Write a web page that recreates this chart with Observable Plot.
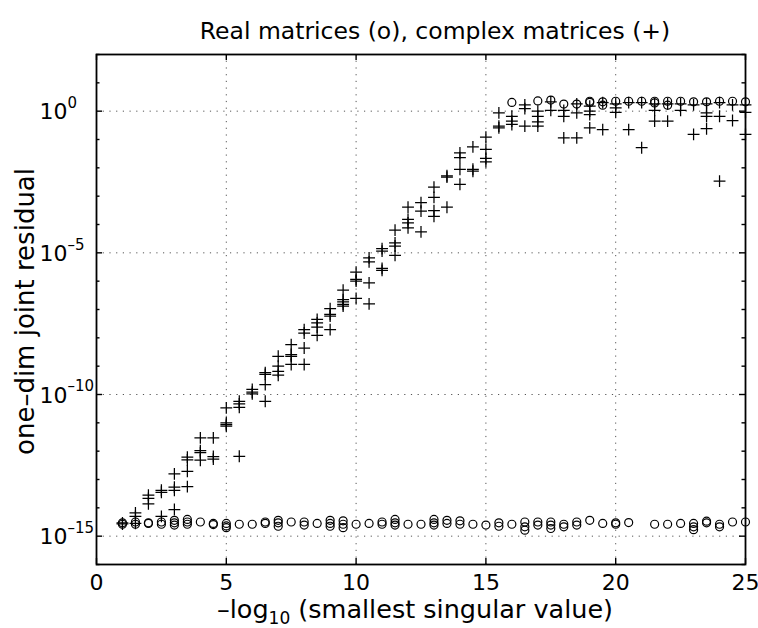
<!DOCTYPE html>
<html><head><meta charset="utf-8">
<script src="https://cdn.jsdelivr.net/npm/d3@7"></script>
<script src="https://cdn.jsdelivr.net/npm/@observablehq/plot@0.6"></script>
<style>html,body{margin:0;padding:0;background:#fff} svg{display:block}</style>
</head><body><div id="chart"></div>
<script>
// ---- text ----
const titleText = "Real matrices (o), complex matrices (+)";
const xLabelText = "–log10 (smallest singular value)";
const yLabelText = "one–dim joint residual";

// ---- ticks ----
const xTicks = [0, 5, 10, 15, 20, 25];
const xGridVals = [5, 10, 15, 20];
const yMajorExp = [0, -5, -10, -15];
const yTickLabels = ["0", "–5", "–10", "–15"];
const yMinorExp = [2, 1, -1, -2, -3, -4, -6, -7, -8, -9, -11, -12, -13, -14, -16];

// ---- data: real matrices (o), log10 of residual ----
const realX = [
  1,1, 1.5,1.5, 2,2, 2.5,2.5, 3,3,3, 3.5,3.5,3.5, 4, 4.5,4.5, 5,5,5, 5.5, 6, 6.5,6.5, 7,7,7, 7.5, 8,8,
  8.5, 9,9,9, 9.5,9.5,9.5, 10, 10.5, 11,11, 11.5,11.5,11.5, 12, 12.5, 13,13,13, 13.5,13.5, 14,14, 14.5, 15,
  15.5,15.5, 16, 16.5,16.5,16.5, 17,17, 17.5,17.5,17.5, 18,18, 18.5,18.5, 19, 19.5, 20,20, 20.5,
  21.5, 22, 22.5, 23,23,23, 23.5,23.5, 24,24, 24.5, 25,
  16, 17, 17.5, 18, 18.5, 19,19, 19.5,19.5, 20, 20.5, 21, 21.5,21.5, 22,22, 22.5, 23, 23.5, 24, 24.5, 25
];
const realLog10Res = [
  -14.53,-14.58, -14.50,-14.58, -14.53,-14.55, -14.50,-14.58, -14.44,-14.53,-14.61, -14.41,-14.50,-14.58, -14.50, -14.55,-14.59,
  -14.55,-14.64,-14.70, -14.58, -14.58, -14.50,-14.55, -14.44,-14.53,-14.65, -14.50, -14.50,-14.61,
  -14.55, -14.44,-14.55,-14.65, -14.46,-14.58,-14.70, -14.58, -14.55, -14.50,-14.58, -14.41,-14.53,-14.61, -14.58, -14.58,
  -14.41,-14.53,-14.61, -14.44,-14.55, -14.46,-14.58, -14.58, -14.61,
  -14.53,-14.65, -14.58, -14.50,-14.67,-14.79, -14.50,-14.61, -14.50,-14.61,-14.73, -14.58,-14.67, -14.50,-14.61, -14.44, -14.55,
  -14.53,-14.58, -14.52,
  -14.58, -14.58, -14.55, -14.55,-14.67,-14.77, -14.47,-14.53, -14.58,-14.67, -14.50, -14.50,
  0.31, 0.36, 0.39, 0.25, 0.25, 0.35,0.31, 0.33,0.21, 0.35, 0.35, 0.35, 0.35,0.29, 0.35,0.21, 0.35, 0.33, 0.33, 0.35, 0.35, 0.33
];

// ---- data: complex matrices (+), log10 of residual ----
const complexX = [
  1,1, 1.5,1.5,1.5, 2,2,2, 2.5,2.5,2.5, 3,3,3,3, 3.5,3.5,3.5,3.5, 4,4,4,4, 4.5,4.5,4.5, 5,5,5,5,
  5.5,5.5,5.5,5.5, 6,6,6, 6.5,6.5,6.5,6.5, 7,7,7,7, 7.5,7.5,7.5,7.5, 8,8,8,8, 8.5,8.5,8.5,8.5,
  9,9,9,9, 9.5,9.5,9.5,9.5,9.5, 10,10,10,10, 10.5,10.5,10.5,10.5, 11,11,11,11, 11.5,11.5,11.5,11.5,
  12,12,12,12, 12.5,12.5,12.5, 13,13,13,13, 13.5,13.5,13.5, 14,14,14,14, 14.5,14.5,14.5, 15,15,15,15,
  15.5,15.5,15.5, 16,16,16, 16.5,16.5,16.5, 17,17,17,17, 17.5,17.5, 18,18,18, 18.5,18.5,18.5,
  19,19,19,19, 19.5,19.5, 20,20,20, 20.5,20.5, 21,21, 21.5,21.5,21.5, 22,22, 22.5,22.5, 23,23,
  23.5,23.5,23.5,23.5, 24,24,24, 24.5,24.5, 25,25,25
];
const complexLog10Res = [
  -14.53,-14.57, -14.18,-14.30,-14.55, -13.55,-13.67,-13.86, -13.38,-13.45,-14.30, -12.80,-13.27,-13.38,-14.06,
  -12.21,-12.31,-12.71,-13.25, -11.53,-11.98,-12.05,-12.32, -11.53,-12.19,-12.28, -10.47,-11.00,-11.06,-11.12,
  -10.24,-10.33,-10.45,-12.18, -9.82,-9.92,-9.98, -9.23,-9.29,-9.65,-10.24, -8.65,-9.00,-9.18,-9.32,
  -8.24,-8.59,-8.65,-8.94, -7.71,-7.83,-8.36,-8.94, -7.35,-7.47,-7.62,-7.91,
  -6.97,-7.17,-7.23,-7.71, -6.32,-6.65,-6.73,-6.82,-6.88, -5.68,-5.94,-6.00,-6.61, -5.18,-5.32,-6.06,-6.80,
  -4.85,-4.94,-5.55,-5.62, -4.20,-4.65,-4.76,-5.09,
  -3.39,-3.82,-3.94,-4.12, -3.23,-3.53,-4.26, -2.68,-3.04,-3.51,-3.71, -2.28,-2.33,-3.39,
  -1.47,-1.64,-2.05,-2.58, -1.26,-2.05,-2.12, -0.92,-1.35,-1.67,-1.79,
  -0.06,-0.53,-0.59, -0.18,-0.35,-0.47, 0.22,0.09,-0.53, 0.00,-0.18,-0.38,-0.53, 0.33,0.03,
  0.03,-0.18,-0.94, 0.26,-0.06,-0.94, 0.18,0.00,-0.12,-0.59, 0.30,-0.65, 0.26,0.12,-0.04,
  0.30,-0.65, 0.30,-1.29, 0.26,0.03,-0.35, 0.26,-0.35, 0.26,0.03, 0.22,-0.82,
  0.26,-0.06,-0.18,-0.62, 0.30,-0.18,-2.47, 0.22,-0.33, 0.22,-0.04,-0.82
];

const realData = realX.map((x, i) => ({x, res: 10 ** realLog10Res[i]}));
const complexData = complexX.map((x, i) => ({x, res: 10 ** complexLog10Res[i]}));

const W = 758, H = 628, ML = 96, MR = 13, MT = 54, MB = 64;
const PW = W - ML - MR, PH = H - MT - MB;
const FONT = "DejaVu Sans";
const grid = {stroke: "#555", strokeOpacity: 1, strokeWidth: 1, strokeDasharray: "1.2,5.5"};
const tickStyle = {stroke: "black", strokeWidth: 1.4};

const chart = Plot.plot({
  width: W, height: H,
  marginLeft: ML, marginRight: MR, marginTop: MT, marginBottom: MB,
  x: {domain: [0, 25], axis: null},
  y: {type: "log", domain: [1e-16, 1e2], axis: null},
  style: {fontFamily: FONT, background: "white", color: "black"},
  marks: [
    Plot.ruleX(xGridVals, {x: d => d, ...grid}),
    Plot.ruleY(yMajorExp, {y: e => 10 ** e, ...grid}),
    // inward ticks
    Plot.ruleX(xTicks, {x: d => d, insetTop: PH - 6, ...tickStyle}),
    Plot.ruleX(xTicks, {x: d => d, insetBottom: PH - 6, ...tickStyle}),
    Plot.ruleY(yMajorExp, {y: e => 10 ** e, insetRight: PW - 6, ...tickStyle}),
    Plot.ruleY(yMajorExp, {y: e => 10 ** e, insetLeft: PW - 6, ...tickStyle}),
    Plot.ruleY(yMinorExp, {y: e => 10 ** e, insetRight: PW - 3.5, ...tickStyle}),
    Plot.ruleY(yMinorExp, {y: e => 10 ** e, insetLeft: PW - 3.5, ...tickStyle}),
    Plot.frame({stroke: "black", strokeWidth: 1.8}),
    // data
    Plot.dot(realData, {x: "x", y: "res", symbol: "circle", r: 4, stroke: "black", strokeWidth: 1.2, fill: "none"}),
    Plot.dot(complexData, {x: "x", y: "res", symbol: "plus", r: 3.9, stroke: "black", strokeWidth: 1.25}),
    // tick labels
    Plot.text(xTicks, {x: d => d, frameAnchor: "bottom", lineAnchor: "top", dy: 10, fontSize: 22, text: d => String(d), fill: "black"}),
    Plot.text(yMajorExp, {y: e => 10 ** e, frameAnchor: "left", textAnchor: "start", lineAnchor: "middle", dx: -57, dy: 1, fontSize: 22, text: () => "10", fill: "black"}),
    Plot.text(yMajorExp, {y: e => 10 ** e, frameAnchor: "left", textAnchor: "start", lineAnchor: "middle", dx: -29, dy: -8, fontSize: 15, text: (e, i) => yTickLabels[i], fill: "black"}),
    // titles
    Plot.text([titleText], {frameAnchor: "top", textAnchor: "middle", lineAnchor: "middle", dx: 14, dy: -23, fontSize: 23.5, text: d => d, fill: "black"}),
    Plot.text([xLabelText], {frameAnchor: "bottom", textAnchor: "middle", lineAnchor: "middle", dx: -6, dy: 45, fontSize: 25.5, text: d => d, fill: "black"}),
    Plot.text([yLabelText], {frameAnchor: "left", textAnchor: "middle", lineAnchor: "middle", rotate: -90, dx: -71, dy: 2, fontSize: 26, text: d => d, fill: "black"})
  ]
});

// subscript in the x label
chart.querySelectorAll("text").forEach(t => {
  if (t.textContent === xLabelText) {
    const ns = "http://www.w3.org/2000/svg";
    t.textContent = "";
    const a = document.createElementNS(ns, "tspan"); a.textContent = "–log";
    const b = document.createElementNS(ns, "tspan"); b.textContent = "10";
    b.setAttribute("font-size", "17"); b.setAttribute("dy", "6");
    const c = document.createElementNS(ns, "tspan"); c.textContent = " (smallest singular value)";
    c.setAttribute("dy", "-6");
    t.append(a, b, c);
  }
});

document.getElementById("chart").appendChild(chart);
</script>
</body></html>
